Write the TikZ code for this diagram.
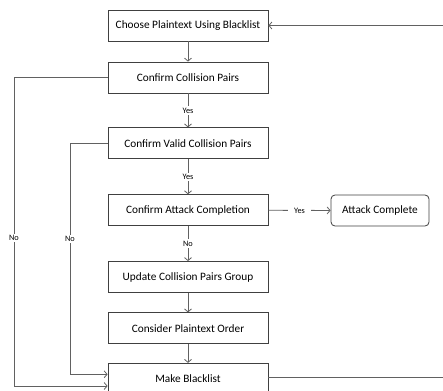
\documentclass[tikz,border=0pt]{standalone}
\usepackage{fontspec}
\setmainfont{Carlito}
\usetikzlibrary{arrows.meta}
\begin{document}
\begin{tikzpicture}[x=1pt,y=-1pt,
  box/.style={draw=black!75, fill=white, line width=0.8pt, minimum width=160pt, minimum height=31pt, inner sep=0pt, font=\fontsize{11.3}{13}\selectfont},
  rbox/.style={box, rounded corners=4pt, minimum width=98pt},
  lbl/.style={fill=white, inner sep=1.5pt, font=\fontsize{8.3}{10}\selectfont},
  conn/.style={draw=black!62, line width=0.8pt},
  arr/.style={conn, -{Straight Barb[length=3pt,width=7pt]}}]
\useasboundingbox (0,0) rectangle (443,390);
\node[box] (n1) at (188,25.5) {Choose Plaintext Using Blacklist};
\node[box] (n2) at (188,77.5) {Confirm Collision Pairs};
\node[box] (n3) at (188,143.3) {Confirm Valid Collision Pairs};
\node[box] (n4) at (188,210.2) {Confirm Attack Completion};
\node[rbox] (ac) at (380,210.5) {Attack Complete};
\node[box] (n5) at (188,277) {Update Collision Pairs Group};
\node[box] (n6) at (188,328.3) {Consider Plaintext Order};
\node[box] (n7) at (188,378.8) {Make Blacklist};
\draw[arr] (n1) -- (n2);
\draw[arr] (n2) -- node[lbl] (y1) {Yes} (n3);
\draw[arr] (n3) -- node[lbl] (y2) {Yes} (n4);
\draw[arr] (n4) -- node[lbl] (no1) {No} (n5);
\draw[arr] (n4) -- node[lbl, fill=white, inner xsep=6pt] (y3) {Yes} (ac);
\draw[arr] (n5) -- (n6);
\draw[arr] (n6) -- (n7);
\coordinate (c1) at (14,386);
\coordinate (c2) at (70,374.3);
\coordinate (c3) at (446,377.7);
\draw[arr] (n2.west) -| (c1) -- (n7.west |- c1);
\draw[arr] (n3.west) -| (c2) -- (n7.west |- c2);
\node[lbl] (no2) at (14,238) {No};
\node[lbl] (no3) at (70,239) {No};
\draw[arr] (n7.east |- c3) -- (c3) |- (n1.east);
\end{tikzpicture}
\end{document}
